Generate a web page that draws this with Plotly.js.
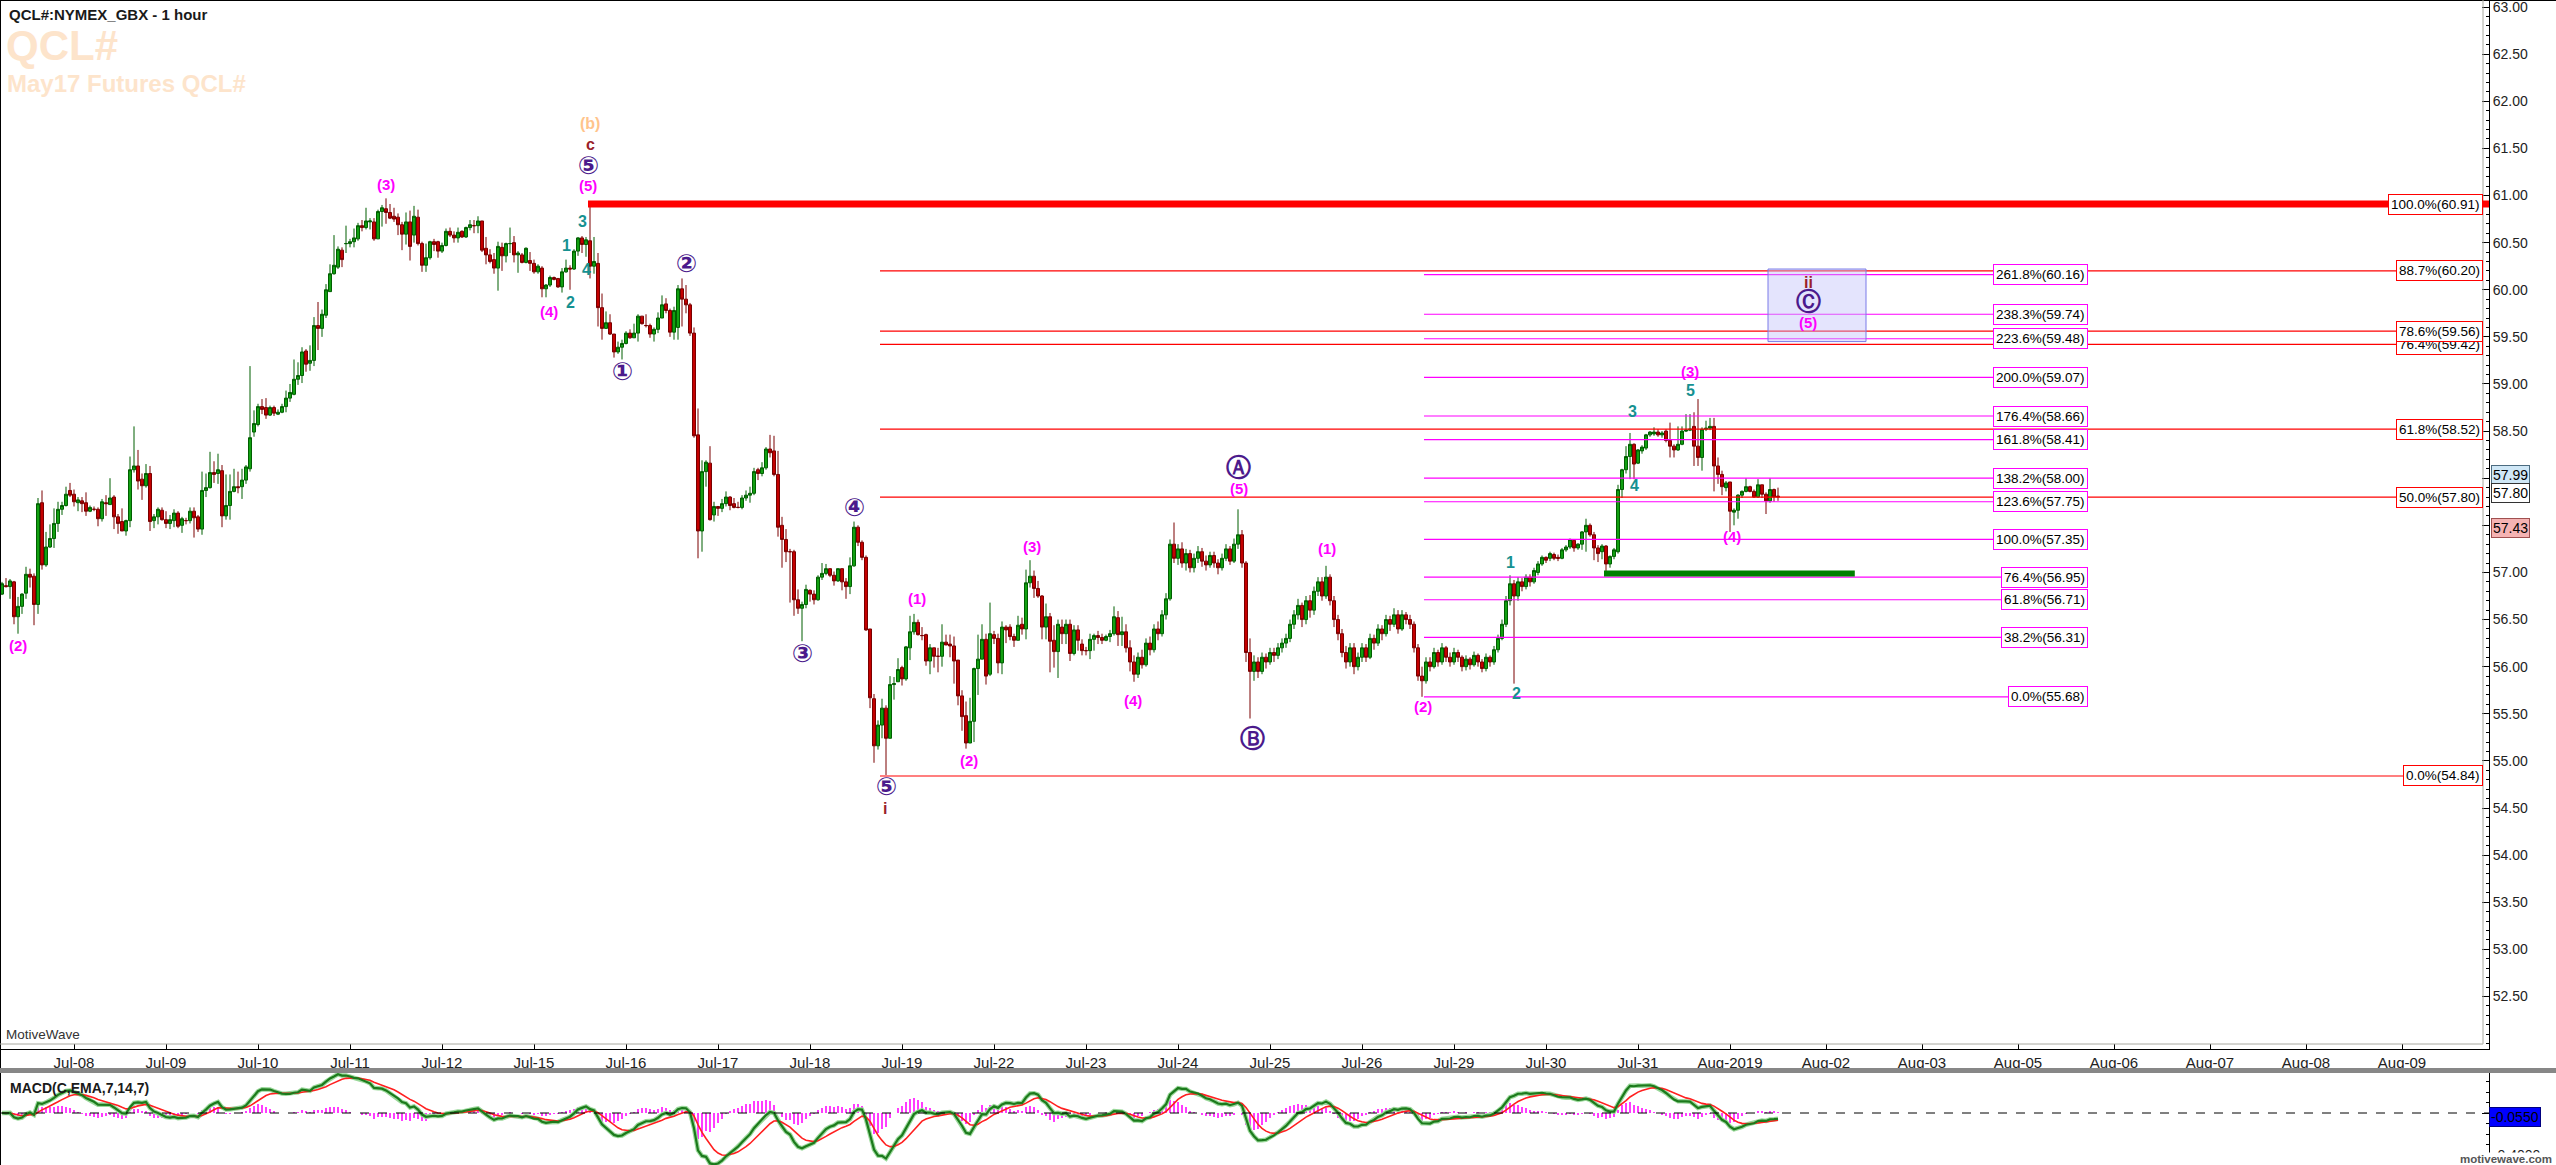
<!DOCTYPE html>
<html><head><meta charset="utf-8">
<script src="https://cdn.plot.ly/plotly-3.0.1.min.js"></script>
<style>html,body{margin:0;padding:0;background:#fff;overflow:hidden}#chart{width:2556px;height:1165px}</style>
</head><body><div id="chart"></div>
<script>
// ---------------- DATA (hourly bars, QCL# 1 hour) ----------------
const open = [
56.77,56.86,56.85,56.90,56.53,56.64,56.78,56.98,56.96,56.66,
57.74,57.08,57.27,57.36,57.52,57.67,57.71,57.87,57.83,57.74,
57.76,57.74,57.65,57.67,57.67,57.57,57.74,57.72,57.80,57.59,
57.54,57.44,57.55,58.09,58.13,57.99,57.92,58.05,57.55,57.59,
57.66,57.56,57.52,57.55,57.63,57.50,57.55,57.55,57.65,57.59,
57.46,57.87,57.90,58.06,58.05,58.08,
57.60,57.71,57.86,57.91,57.91,57.98,58.10,58.49,58.57,58.76,
58.75,58.67,58.75,58.68,58.70,58.76,58.85,58.89,59.05,59.09,
59.35,59.22,59.25,59.62,59.59,59.73,59.98,60.17,60.24,60.42,
60.49,60.49,60.51,60.54,60.68,60.66,60.72,60.72,60.54,60.83,
60.86,60.82,60.78,60.77,60.69,60.59,60.72,60.58,60.77,60.49,
60.26,60.34,60.51,60.51,60.41,60.47,60.62,
60.58,60.55,60.62,60.56,60.66,60.68,60.68,60.73,60.44,60.37,
60.32,60.23,60.45,60.36,60.49,60.50,60.37,60.37,60.29,60.31,
60.28,60.19,60.23,60.01,60.05,60.13,60.12,60.03,60.19,60.23,
60.22,60.41,60.55,60.48,60.52,60.25,60.28,59.81,59.59,59.65,
59.53,59.34,59.39,59.43,59.54,59.49,59.54,59.72,59.62,59.62,
59.53,59.58,59.70,59.85,59.78,59.55,
59.60,60.01,59.90,59.84,59.54,58.46,57.44,58.07,58.16,57.61,
57.70,57.68,57.73,57.80,57.73,57.69,57.69,57.79,57.82,57.84,
58.09,58.05,58.11,58.31,58.29,58.04,57.50,57.35,57.22,57.22,
56.71,56.62,56.66,56.81,56.77,56.71,56.95,56.99,57.04,56.97,
56.91,57.04,56.90,56.85,57.07,57.48,57.32,57.16,56.40,55.66,
55.16,55.38,55.56,55.24,55.81,55.84,
55.99,55.87,56.20,56.37,56.47,56.33,56.34,56.06,56.20,56.11,
56.11,56.26,56.24,56.22,56.07,55.69,55.48,55.19,55.42,55.98,
56.08,56.29,55.92,56.34,56.30,56.04,56.42,56.42,56.32,56.28,
56.45,56.40,56.89,56.96,56.83,56.75,56.42,56.53,56.28,56.16,
56.42,56.35,56.45,56.14,56.39,56.24,56.17,56.17,56.29,56.33,
56.31,56.28,56.32,56.35,56.52,56.34,
56.37,56.20,56.05,55.92,56.10,56.02,56.25,56.18,56.40,56.35,
56.55,56.72,57.30,57.15,57.25,57.10,57.20,57.05,57.15,57.22,
57.12,57.08,57.18,57.10,57.05,57.15,57.25,57.12,57.30,57.40,
57.10,56.15,55.95,56.05,55.95,56.10,56.05,56.15,56.12,56.20,
56.25,56.30,56.45,56.55,56.65,56.50,56.70,56.60,56.80,56.90,
56.75,56.95,56.70,56.50,56.35,56.15,56.05,56.20,56.00,56.10,
56.20,56.10,56.30,56.25,56.40,56.35,56.50,56.45,56.55,56.40,
56.55,56.50,56.45,56.20,55.90,55.85,56.05,56.00,56.15,56.05,
56.20,56.10,56.05,56.15,56.10,56.00,56.08,56.02,56.12,56.05,
55.98,56.10,56.05,56.18,56.30,56.45,56.70,56.88,56.75,56.90,
56.85,56.95,56.90,
57.00,57.09,57.16,57.15,57.19,57.16,57.15,57.24,57.27,57.34,
57.26,57.30,57.43,57.50,57.40,57.26,57.22,57.28,57.09,57.17,
57.22,57.88,58.09,58.23,58.36,58.16,58.29,58.32,58.46,58.47,
58.49,58.46,58.50,58.40,58.34,58.30,58.36,58.50,58.51,58.55,
58.34,58.22,58.52,58.53,58.55,58.13,58.04,57.90,57.96,57.64,
57.66,57.82,57.86,57.91,57.86,57.80,57.93,57.83,57.76,57.88,
57.81];

const high = [
56.90,56.94,56.93,56.91,56.74,56.78,57.06,57.04,56.99,57.79,
57.87,57.43,57.51,57.68,57.75,57.75,57.91,57.95,57.88,57.80,
57.80,57.85,57.71,57.70,57.69,57.78,57.82,58.00,57.82,57.62,
57.68,57.56,58.23,58.55,58.30,58.05,58.15,58.13,57.62,57.69,
57.69,57.65,57.61,57.67,57.65,57.59,57.58,57.69,57.69,57.61,
58.07,58.05,58.28,58.18,58.26,58.14,
58.04,58.04,58.10,58.07,58.10,58.14,59.19,58.72,58.79,58.84,
58.85,58.77,58.77,58.73,58.79,58.93,59.00,59.26,59.23,59.39,
59.37,59.41,59.71,59.87,59.79,60.06,60.27,60.58,60.46,60.45,
60.68,60.54,60.65,60.71,60.74,60.87,60.76,60.76,60.85,60.90,
60.97,60.91,60.87,60.81,60.72,60.82,60.84,60.89,60.85,60.51,
60.49,60.52,60.54,60.52,60.50,60.65,60.66,
60.62,60.66,60.63,60.67,60.74,60.74,60.78,60.73,60.56,60.43,
60.39,60.51,60.50,60.50,60.66,60.57,60.41,60.39,60.45,60.40,
60.32,60.27,60.25,60.06,60.15,60.14,60.12,60.23,60.32,60.26,
60.43,60.56,60.57,60.56,60.93,60.56,60.39,59.96,59.77,59.74,
59.53,59.45,59.47,59.56,59.58,59.64,59.74,59.72,59.74,59.64,
59.60,59.76,59.94,59.91,59.80,59.82,
60.05,60.12,60.05,59.86,59.60,58.74,58.19,58.19,58.34,57.75,
57.70,57.78,57.86,57.81,57.79,57.75,57.82,57.87,57.91,58.11,
58.11,58.17,58.33,58.46,58.45,58.29,57.59,57.46,57.25,57.24,
56.82,56.69,56.87,56.82,56.81,56.97,57.10,57.09,57.04,57.01,
57.04,57.04,56.94,57.16,57.54,57.50,57.34,57.18,56.40,55.71,
55.43,55.66,55.59,55.90,55.89,56.09,
56.01,56.22,56.54,56.56,56.50,56.42,56.35,56.24,56.20,56.20,
56.45,56.34,56.34,56.32,56.07,55.75,55.63,55.67,55.99,56.34,
56.45,56.35,56.68,56.38,56.35,56.48,56.44,56.45,56.35,56.54,
56.52,57.03,57.13,57.02,56.91,56.76,56.67,56.57,56.44,56.50,
56.50,56.50,56.50,56.44,56.44,56.29,56.21,56.35,56.35,56.38,
56.35,56.34,56.39,56.64,56.59,56.53,
56.45,56.28,56.12,56.15,56.18,56.30,56.32,56.45,56.48,56.60,
56.78,57.35,57.53,57.30,57.32,57.25,57.24,57.20,57.28,57.26,
57.18,57.22,57.22,57.14,57.20,57.30,57.28,57.36,57.67,57.45,
57.12,56.30,56.12,56.10,56.15,56.14,56.20,56.20,56.25,56.30,
56.35,56.50,56.60,56.72,56.68,56.75,56.76,56.85,56.95,56.95,
57.07,56.98,56.75,56.55,56.40,56.22,56.25,56.25,56.15,56.25,
56.24,56.35,56.34,56.45,56.44,56.55,56.54,56.62,56.60,56.60,
56.58,56.55,56.48,56.24,56.00,56.10,56.10,56.20,56.18,56.25,
56.22,56.15,56.20,56.18,56.12,56.12,56.10,56.16,56.14,56.08,
56.14,56.12,56.22,56.34,56.50,56.75,56.97,56.92,56.95,56.94,
56.98,56.98,57.05,
57.12,57.18,57.17,57.22,57.21,57.19,57.26,57.29,57.36,57.34,
57.31,57.44,57.57,57.52,57.43,57.29,57.30,57.29,57.18,57.26,
57.93,58.10,58.34,58.48,58.37,58.31,58.35,58.47,58.50,58.54,
58.52,58.50,58.52,58.59,58.36,58.55,58.55,58.68,58.68,58.70,
58.84,58.54,58.61,58.64,58.64,58.22,58.08,57.97,57.96,57.68,
57.83,57.87,58.00,57.92,57.88,57.99,57.93,57.85,58.00,57.89,
57.90];

const low = [
56.76,56.84,56.72,56.45,56.35,56.56,56.72,56.84,56.44,56.56,
57.03,57.06,57.26,57.26,57.43,57.61,57.70,57.80,57.70,57.65,
57.64,57.60,57.64,57.65,57.49,57.54,57.60,57.72,57.46,57.41,
57.44,57.39,57.48,58.06,57.88,57.77,57.90,57.44,57.47,57.51,
57.55,57.47,57.46,57.48,57.47,57.42,57.51,57.52,57.37,57.43,
57.40,57.80,57.89,57.95,57.94,57.48,
57.56,57.56,57.85,57.84,57.78,57.94,58.07,58.44,58.55,58.68,
58.63,58.66,58.66,58.67,58.69,58.70,58.81,58.88,58.99,59.01,
59.13,59.14,59.19,59.36,59.50,59.70,59.98,60.16,60.22,60.24,
60.39,60.45,60.45,60.52,60.62,60.64,60.64,60.52,60.54,60.67,
60.70,60.75,60.72,60.58,60.42,60.48,60.31,60.50,60.47,60.19,
60.19,60.32,60.41,60.34,60.39,60.46,60.56,
60.50,60.50,60.55,60.55,60.63,60.60,60.60,60.40,60.27,60.28,
60.17,59.99,60.20,60.29,60.39,60.29,60.18,60.28,60.28,60.20,
60.17,60.17,59.92,59.92,60.03,60.10,60.02,59.97,60.18,60.00,
60.21,60.36,60.39,60.35,60.12,60.17,59.61,59.47,59.59,59.52,
59.28,59.32,59.26,59.42,59.48,59.49,59.45,59.63,59.60,59.49,
59.45,59.54,59.70,59.75,59.50,59.47,
59.47,59.61,59.75,59.51,58.43,57.15,57.22,57.91,57.55,57.54,
57.60,57.64,57.70,57.66,57.68,57.68,57.67,57.76,57.74,57.82,
57.98,58.02,58.09,58.22,58.02,57.38,57.05,57.11,56.68,56.54,
56.56,56.27,56.62,56.69,56.66,56.70,56.92,56.97,56.95,56.86,
56.90,56.81,56.72,56.77,57.06,57.28,57.13,56.38,55.56,54.98,
55.12,55.24,54.85,55.24,55.65,55.84,
55.80,55.85,56.07,56.34,56.33,56.28,56.01,55.92,55.99,55.94,
56.00,56.23,56.10,55.82,55.59,55.32,55.13,55.19,55.20,55.70,
56.08,55.81,55.90,56.24,55.93,55.92,56.25,56.28,56.21,56.28,
56.34,56.29,56.84,56.73,56.73,56.29,56.29,55.94,55.99,55.88,
56.24,56.24,56.06,56.12,56.17,56.12,56.12,56.08,56.17,56.24,
56.24,56.27,56.26,56.33,56.22,56.22,
56.15,55.95,55.84,55.88,55.98,56.00,56.12,56.15,56.28,56.32,
56.50,56.70,57.10,57.08,57.05,57.02,57.00,57.00,57.10,57.06,
57.02,57.05,57.05,56.98,57.02,57.12,57.08,57.10,57.25,57.05,
56.05,55.45,55.85,55.88,55.92,55.98,56.02,56.05,56.08,56.15,
56.20,56.26,56.40,56.50,56.42,56.45,56.52,56.55,56.75,56.70,
56.72,56.65,56.42,56.28,56.10,55.98,56.00,55.92,55.96,56.05,
56.05,56.08,56.18,56.22,56.28,56.32,56.38,56.42,56.35,56.38,
56.45,56.40,56.15,55.85,55.68,55.82,55.95,55.98,56.00,56.02,
56.05,56.00,56.02,56.05,55.95,55.96,55.97,56.00,56.00,55.94,
55.95,56.00,56.02,56.15,56.28,56.42,56.65,55.82,56.70,56.80,
56.82,56.85,56.88,
56.97,57.07,57.10,57.12,57.13,57.12,57.14,57.22,57.25,57.22,
57.24,57.24,57.22,57.38,57.13,57.11,57.14,56.99,57.05,57.14,
57.20,57.79,58.05,57.99,57.99,58.15,58.26,58.30,58.44,58.45,
58.44,58.43,58.38,58.22,58.22,58.29,58.35,58.49,58.50,58.13,
58.13,58.08,58.50,58.51,57.86,57.94,57.82,57.86,57.43,57.50,
57.57,57.79,57.85,57.85,57.79,57.79,57.79,57.62,57.74,57.75,
57.76];

const close = [
56.88,56.85,56.91,56.53,56.64,56.77,56.98,56.95,56.66,57.73,
57.08,57.27,57.36,57.52,57.67,57.71,57.83,57.82,57.75,57.77,
57.73,57.65,57.69,57.67,57.57,57.75,57.73,57.79,57.59,57.52,
57.44,57.55,58.09,58.13,57.97,57.92,58.05,57.54,57.59,57.67,
57.56,57.52,57.56,57.63,57.49,57.57,57.55,57.65,57.58,57.46,
57.87,57.90,58.06,58.04,58.09,57.60,
57.71,57.86,57.91,57.90,57.98,58.12,58.43,58.58,58.76,58.73,
58.67,58.75,58.69,58.70,58.76,58.85,58.91,59.05,59.09,59.34,
59.21,59.25,59.62,59.59,59.74,60.00,60.17,60.26,60.43,60.32,
60.49,60.51,60.55,60.68,60.66,60.73,60.73,60.54,60.83,60.87,
60.82,60.76,60.75,60.69,60.59,60.72,60.46,60.78,60.49,60.26,
60.34,60.51,60.48,60.41,60.47,60.62,60.58,
60.55,60.61,60.56,60.66,60.69,60.68,60.73,60.42,60.37,60.30,
60.23,60.46,60.36,60.49,60.49,60.37,60.39,60.29,60.44,60.28,
60.19,60.25,60.01,60.05,60.13,60.11,60.03,60.19,60.23,60.22,
60.41,60.55,60.48,60.53,60.25,60.30,59.81,59.59,59.65,59.53,
59.34,59.39,59.43,59.54,59.49,59.54,59.72,59.64,59.62,59.53,
59.58,59.70,59.84,59.78,59.55,59.78,
60.01,59.90,59.84,59.54,58.45,57.44,58.07,58.17,57.56,57.70,
57.68,57.73,57.80,57.71,57.69,57.69,57.79,57.82,57.84,58.07,
58.05,58.11,58.31,58.27,58.04,57.48,57.35,57.22,57.22,56.71,
56.62,56.66,56.82,56.77,56.71,56.95,56.99,57.04,56.97,56.91,
57.04,56.90,56.85,57.07,57.48,57.32,57.16,56.39,55.67,55.16,
55.38,55.56,55.24,55.81,55.82,55.97,
55.87,56.21,56.37,56.47,56.34,56.33,56.06,56.20,56.11,56.11,
56.26,56.23,56.22,56.06,55.69,55.47,55.19,55.42,55.98,56.08,
56.29,55.90,56.35,56.30,56.04,56.42,56.39,56.32,56.28,56.44,
56.40,56.89,56.96,56.83,56.75,56.42,56.53,56.27,56.16,56.45,
56.35,56.45,56.14,56.39,56.28,56.17,56.17,56.29,56.33,56.31,
56.28,56.32,56.35,56.53,56.34,56.37,
56.20,56.05,55.92,56.10,56.02,56.25,56.18,56.40,56.35,56.55,
56.72,57.30,57.15,57.25,57.10,57.20,57.05,57.15,57.22,57.12,
57.08,57.18,57.10,57.05,57.15,57.25,57.12,57.30,57.40,57.10,
56.15,55.95,56.05,55.95,56.10,56.05,56.15,56.12,56.20,56.25,
56.30,56.45,56.55,56.65,56.50,56.70,56.60,56.80,56.90,56.75,
56.95,56.70,56.50,56.35,56.15,56.05,56.20,56.00,56.10,56.20,
56.10,56.30,56.25,56.40,56.35,56.50,56.45,56.55,56.40,56.55,
56.50,56.45,56.20,55.90,55.85,56.05,56.00,56.15,56.05,56.20,
56.10,56.05,56.15,56.10,56.00,56.08,56.02,56.12,56.05,55.98,
56.10,56.05,56.18,56.30,56.45,56.70,56.88,56.75,56.90,56.85,
56.95,56.90,57.02,
57.09,57.16,57.13,57.20,57.15,57.15,57.24,57.27,57.35,57.26,
57.30,57.43,57.50,57.40,57.26,57.20,57.28,57.09,57.17,57.24,
57.88,58.09,58.23,58.36,58.15,58.30,58.33,58.46,58.49,58.49,
58.46,58.48,58.40,58.34,58.30,58.36,58.50,58.51,58.52,58.34,
58.22,58.52,58.53,58.55,58.13,58.04,57.91,57.95,57.65,57.66,
57.82,57.86,57.91,57.86,57.80,57.93,57.83,57.76,57.88,57.80,
57.80];

// day labels (bar index where each session begins)
const dayTickBars = [18,41,64,87,110,133,156,179,202,225,248,271,294,317,340,363,386,409,432,456,480,504,528,552,576,600];
const dayTickText = ['Jul-08','Jul-09','Jul-10','Jul-11','Jul-12','Jul-15','Jul-16','Jul-17','Jul-18','Jul-19','Jul-22','Jul-23','Jul-24','Jul-25','Jul-26','Jul-29','Jul-30','Jul-31','Aug-2019','Aug-02','Aug-03','Aug-05','Aug-06','Aug-07','Aug-08','Aug-09'];

// Fibonacci retracement (red) and extension (magenta)
const redPct = ['0.0%','50.0%','61.8%','76.4%','78.6%','88.7%','100.0%'];
const redLevels = [54.84,57.80,58.52,59.42,59.56,60.20,60.91];
const magPct = ['0.0%','38.2%','61.8%','76.4%','100.0%','123.6%','138.2%','161.8%','176.4%','200.0%','223.6%','238.3%','261.8%'];
const magLevels = [55.68,56.31,56.71,56.95,57.35,57.75,58.00,58.41,58.66,59.07,59.48,59.74,60.16];

// key levels
const topLevel = 60.91;     // thick red line
const supportLevel = 56.99; // thick green line
const targetBox = [59.45, 60.22];

// right price tags
const priceTags = [57.99, 57.80, 57.43];
const macdLast = '-0.0550';

// wave labels: text, bar, price, style
const waveLabels = [
 ['(b)',147,61.76,'b'],['c',147,61.54,'dr'],['⑤',146.5,61.32,'circ'],['(5)',146.5,61.11,'mag'],
 ['(3)',96,61.12,'mag'],['3',145,60.72,'teal'],['1',141,60.47,'teal'],['4',146.2,60.22,'teal'],['2',142.2,59.87,'teal'],['(4)',136.7,59.77,'mag'],
 ['②',171,60.28,'circ'],['①',155,59.13,'circ'],['③',200,56.14,'circ'],['④',213.2,57.69,'circ'],['⑤',221,54.73,'circ'],['i',220.7,54.50,'dr'],
 ['(2)',4,56.22,'mag'],['(1)',228.7,56.72,'mag'],['(2)',241.7,55.00,'mag'],['(3)',257.5,57.28,'mag'],['(4)',282.7,55.64,'mag'],['(5)',309.2,57.89,'mag'],
 ['Ⓐ',309.2,58.11,'circ'],['Ⓑ',312.5,55.24,'circ'],['(1)',331.2,57.25,'mag'],['(2)',355.2,55.58,'mag'],
 ['1',377,57.11,'teal'],['2',378.5,55.72,'teal'],['3',407.5,58.71,'teal'],['4',408.2,57.92,'teal'],['5',422.2,58.93,'teal'],['(3)',422,59.13,'mag'],['(4)',432.5,57.38,'mag'],
 ['ii',451.5,60.08,'dr'],['Ⓒ',451.5,59.88,'circ'],['(5)',451.5,59.65,'mag']
];

// ---------------- CHART ----------------
const FONT = 'Liberation Sans, Arial, sans-serif';
const W = 2556, H = 1165, PW = 2489;          // plot width (right margin 67)
const px = x => x / PW;                         // pixel -> paper x
const py = y => 1 - y / H;                      // pixel -> paper y
const bars = close.map((_, i) => i);

function ema(src, n) {
  const a = 2 / (n + 1); const out = []; let e = src[0];
  for (let i = 0; i < src.length; i++) { e = i === 0 ? src[0] : a * src[i] + (1 - a) * e; out.push(e); }
  return out;
}
const e7 = ema(close, 7), e14 = ema(close, 14);
const macd = close.map((_, i) => e7[i] - e14[i]);
const signal = ema(macd, 7);
const hist = macd.map((m, i) => m - signal[i]);

const traces = [
  { type:'candlestick', x:bars, open:open, high:high, low:low, close:close, xaxis:'x', yaxis:'y',
    increasing:{line:{color:'#005f00', width:1}, fillcolor:'#12a012'},
    decreasing:{line:{color:'#7a0000', width:1}, fillcolor:'#c40000'},
    whiskerwidth:0, hoverinfo:'skip' },
  { type:'bar', x:bars, y:hist, width:0.5, marker:{color:'#ff3cff', line:{width:0}}, xaxis:'x2', yaxis:'y2', hoverinfo:'skip' },
  { type:'scatter', mode:'lines', x:bars, y:macd, line:{color:'#9ad89a', width:4.5}, xaxis:'x2', yaxis:'y2', hoverinfo:'skip' },
  { type:'scatter', mode:'lines', x:bars, y:signal, line:{color:'#ff2020', width:1.6}, xaxis:'x2', yaxis:'y2', hoverinfo:'skip' },
  { type:'scatter', mode:'lines', x:bars, y:macd, line:{color:'#1c7a1c', width:2.2}, xaxis:'x2', yaxis:'y2', hoverinfo:'skip' }
];

const XR = [-0.5, -0.5 + PW / 4];
const mainBottom = 1049, macdTop = 1073, zeroPx = 1113, macdScale = 105;
const v0 = 60.91, v0px = 204, vScale = 94.23;
const yTop = v0 + v0px / vScale, yBot = v0 - (mainBottom - v0px) / vScale;

const yTicks = []; for (let v = 52.5; v <= 63.001; v += 0.5) yTicks.push(+v.toFixed(2));

const shapes = [];
// frame lines
shapes.push({type:'line', xref:'paper', yref:'paper', x0:0, x1:W/PW, y0:1, y1:1, line:{color:'#000', width:2}});
shapes.push({type:'line', xref:'paper', yref:'paper', x0:0, x1:0, y0:0, y1:1, line:{color:'#000', width:2}});
shapes.push({type:'line', xref:'paper', yref:'paper', x0:px(2483), x1:px(2483), y0:py(1044), y1:1, line:{color:'#a8a8a0', width:1}});
shapes.push({type:'line', xref:'paper', yref:'paper', x0:0, x1:px(2483), y0:py(1044), y1:py(1044), line:{color:'#a8a8a0', width:1}});
shapes.push({type:'rect', xref:'paper', yref:'paper', x0:0, x1:W/PW, y0:py(1073), y1:py(1068), fillcolor:'#878787', line:{width:0}});
// MACD zero line
shapes.push({type:'line', xref:'paper', yref:'y2', x0:0, x1:1, y0:0, y1:0, line:{color:'#000', width:1, dash:'dash'}});
// fib lines
redLevels.forEach(v => shapes.push({type:'line', xref:'x', yref:'y', x0:219.5, x1:620, y0:v, y1:v, line:{color:'#ff0000', width:1.2}}));
magLevels.forEach(v => shapes.push({type:'line', xref:'x', yref:'y', x0:355.5, x1:521, y0:v, y1:v, line:{color:'#ff00ff', width:1.2}}));
// thick lines
shapes.push({type:'line', xref:'x', yref:'y', x0:146.5, x1:XR[1], y0:topLevel, y1:topLevel, line:{color:'#ff0000', width:7}});
shapes.push({type:'line', xref:'x', yref:'y', x0:400.5, x1:463.2, y0:supportLevel, y1:supportLevel, line:{color:'#008000', width:6}});
// target box
shapes.push({type:'rect', xref:'x', yref:'y', x0:441.5, x1:466, y0:targetBox[0], y1:targetBox[1], fillcolor:'rgba(190,190,250,0.42)', line:{color:'#7a7ae8', width:1}});

const ann = [];
// titles
ann.push({xref:'paper', yref:'paper', x:px(7), y:py(14.5), xanchor:'left', yanchor:'middle', showarrow:false, text:'<b>QCL#:NYMEX_GBX - 1 hour</b>', font:{family:FONT, size:15, color:'#1a1a1a'}});
ann.push({xref:'paper', yref:'paper', x:px(4), y:py(46), xanchor:'left', yanchor:'middle', showarrow:false, text:'<b>QCL#</b>', font:{family:FONT, size:42, color:'#fde4cb'}});
ann.push({xref:'paper', yref:'paper', x:px(5), y:py(84), xanchor:'left', yanchor:'middle', showarrow:false, text:'<b>May17 Futures QCL#</b>', font:{family:FONT, size:24, color:'#fde4cb'}});
ann.push({xref:'paper', yref:'paper', x:px(4), y:py(1034), xanchor:'left', yanchor:'middle', showarrow:false, text:'MotiveWave', font:{family:FONT, size:13.5, color:'#333'}});
ann.push({xref:'paper', yref:'paper', x:px(8), y:py(1088), xanchor:'left', yanchor:'middle', showarrow:false, text:'<b>MACD(C,EMA,7,14,7)</b>', font:{family:FONT, size:14, color:'#1a1a1a'}});
ann.push({xref:'paper', yref:'paper', x:px(2553), y:py(1159), xanchor:'right', yanchor:'middle', showarrow:false, text:'<b>motivewave.com</b>', font:{family:FONT, size:11.5, color:'#555'}, bgcolor:'#ffffff', borderpad:0});
// fib labels
magLevels.forEach((v, i) => ann.push({xref:'x', yref:'y', x:521.5, y:v, xanchor:'right', yanchor:'middle', showarrow:false,
  text: magPct[i] + '(' + v.toFixed(2) + ')', font:{family:FONT, size:13.5, color:'#000'}, bgcolor:'#fff', bordercolor:'#ff00ff', borderwidth:1, borderpad:2}));
redLevels.forEach((v, i) => ann.push({xref:'x', yref:'y', x:620.2, y:v, xanchor:'right', yanchor:'middle', showarrow:false,
  text: redPct[i] + '(' + v.toFixed(2) + ')', font:{family:FONT, size:13.5, color:'#000'}, bgcolor:'#fff', bordercolor:'#ff0000', borderwidth:1, borderpad:2}));
// price tags
const tagStyle = [['#cfe7f6','#4b6b80'],['#ffffff','#333333'],['#f5b3b3','#a05050']];
priceTags.forEach((v, i) => ann.push({xref:'paper', yref:'y', x:px(2491), y:v, yshift:4, xanchor:'left', yanchor:'middle', showarrow:false,
  text: v.toFixed(2), font:{family:FONT, size:14, color:'#000'}, bgcolor:tagStyle[i][0], bordercolor:tagStyle[i][1], borderwidth:1, borderpad:1}));
ann.push({xref:'paper', yref:'y2', x:px(2489), y:-0.04, xanchor:'left', yanchor:'middle', showarrow:false,
  text: macdLast, font:{family:FONT, size:14, color:'#000'}, bgcolor:'#0000ff', bordercolor:'#000080', borderwidth:1, borderpad:1});
// wave labels
const st = {
  mag:{family:FONT, size:15, color:'#ff00ff'},
  teal:{family:FONT, size:16, color:'#169191'},
  circ:{family:'DejaVu Sans, sans-serif', size:25, color:'#4b1a8c'},
  dr:{family:FONT, size:16, color:'#9b1f2a'},
  b:{family:FONT, size:16, color:'#ffc48c'}
};
waveLabels.forEach(w => { const s = st[w[3]]; ann.push({xref:'x', yref:'y', x:w[1], y:w[2], xanchor:'center', yanchor:'middle', showarrow:false,
  text: '<b>' + w[0] + '</b>', font:{family:s.family, size:s.size, color:s.color}}); });

const layout = {
  width:W, height:H, margin:{l:0, r:W-PW, t:0, b:0}, paper_bgcolor:'#fff', plot_bgcolor:'#fff',
  showlegend:false, hovermode:false, boxgap:0.25, boxgroupgap:0, bargap:0,
  xaxis:{domain:[0,1], range:XR, anchor:'y', rangeslider:{visible:false}, tickmode:'array', tickvals:dayTickBars, ticktext:dayTickText,
    ticks:'inside', ticklen:5, tickcolor:'#000', showgrid:false, zeroline:false, showline:true, linecolor:'#000', linewidth:1,
    tickfont:{family:FONT, size:15, color:'#222'}, automargin:false, fixedrange:true},
  yaxis:{domain:[py(mainBottom),1], range:[yBot, yTop], side:'right', anchor:'x', tickmode:'array', tickvals:yTicks, ticktext:yTicks.map(v=>v.toFixed(2)),
    ticks:'inside', ticklen:7, tickcolor:'#000', showgrid:false, zeroline:false, showline:true, linecolor:'#000', linewidth:1,
    minor:{ticks:'inside', ticklen:3, dtick:0.1, tick0:0, tickcolor:'#000', showgrid:false}, ticklabeloverflow:'allow',
    tickfont:{family:FONT, size:14, color:'#222'}, automargin:false, fixedrange:true},
  xaxis2:{domain:[0,1], range:XR, anchor:'y2', showticklabels:false, ticks:'', showgrid:false, zeroline:false, showline:false, automargin:false, fixedrange:true},
  yaxis2:{domain:[0, py(macdTop)], range:[-(H-zeroPx)/macdScale, (zeroPx-macdTop)/macdScale], side:'right', anchor:'x2', tickmode:'array',
    tickvals:[0,-0.4], ticktext:['0.0000','-0.4000'], ticks:'inside', ticklen:7, tickcolor:'#000', showgrid:false, zeroline:false,
    showline:true, linecolor:'#000', linewidth:1, minor:{ticks:'inside', ticklen:3, dtick:0.1, tick0:0, tickcolor:'#000'}, ticklabeloverflow:'allow',
    tickfont:{family:FONT, size:14, color:'#222'}, automargin:false, fixedrange:true},
  shapes:shapes, annotations:ann
};

Plotly.newPlot('chart', traces, layout, {staticPlot:true, displayModeBar:false});
</script></body></html>
